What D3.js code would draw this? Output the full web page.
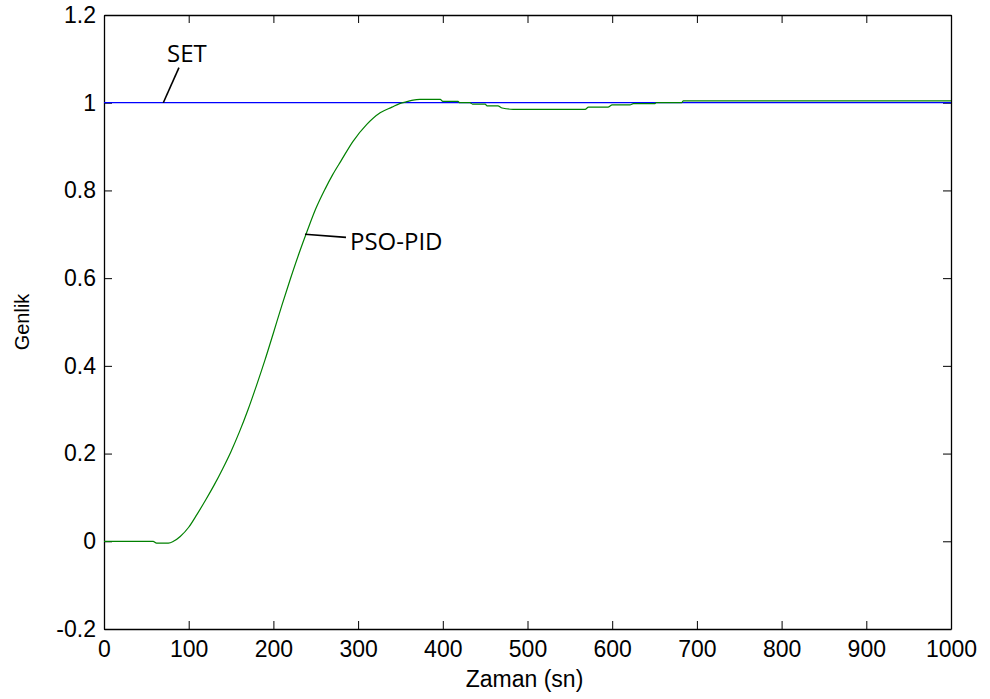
<!DOCTYPE html>
<html>
<head>
<meta charset="utf-8">
<script src="https://cdn.jsdelivr.net/npm/d3@7"></script>
<style>
  html, body { margin: 0; padding: 0; background: #fff; }
  svg { display: block; }
</style>
</head>
<body>
<svg id="chart" width="990" height="699"></svg>
<script>
// ---- data ----
const xTicks = [0, 100, 200, 300, 400, 500, 600, 700, 800, 900, 1000];
const xTickLabels = ["0", "100", "200", "300", "400", "500", "600", "700", "800", "900", "1000"];
const yTicks = [-0.2, 0, 0.2, 0.4, 0.6, 0.8, 1, 1.2];
const yTickLabels = ["-0.2", "0", "0.2", "0.4", "0.6", "0.8", "1", "1.2"];

const setTime = [0, 1000];
const setValue = [1, 1];

const pidTime = [0, 58, 62, 76, 82, 90, 100, 110, 120, 130, 140, 150, 160, 170, 180, 190, 200, 210, 220, 230, 240, 250, 261, 270, 280, 294, 310, 326, 340, 349, 359, 365, 373, 397, 400, 418, 420, 432, 435, 450, 452, 465, 470, 483, 568, 572, 595, 600, 621, 625, 650, 652, 682, 684, 1000];
const pidValue = [0, 0, -0.004, -0.004, 0.0, 0.011, 0.032, 0.062, 0.094, 0.128, 0.165, 0.205, 0.25, 0.3, 0.355, 0.413, 0.475, 0.538, 0.598, 0.655, 0.708, 0.758, 0.803, 0.836, 0.868, 0.912, 0.95, 0.977, 0.99, 0.998, 1.003, 1.006, 1.0074, 1.0074, 1.003, 1.003, 1.0, 1.0, 0.997, 0.997, 0.993, 0.993, 0.988, 0.985, 0.985, 0.99, 0.99, 0.995, 0.995, 0.998, 0.998, 1.0, 1.0, 1.004, 1.004];

const annoLabels = ["SET", "PSO-PID"];
const annoTextPos = [[74.4, 1.093], [290.4, 0.665]];
const annoLineFrom = [[88.5, 1.08], [285.7, 0.693]];
const annoLineTo = [[70, 1.0], [237.3, 0.7]];

const xLabel = "Zaman (sn)";
const yLabel = "Genlik";

// ---- layout ----
const svg = d3.select("#chart");
const pLeft = 104, pTop = 15, pRight = 951, pBottom = 629;

const x = d3.scaleLinear().domain([0, 1000]).range([pLeft, pRight]);
const y = d3.scaleLinear().domain([-0.2, 1.2]).range([pBottom, pTop]);

const tickFont = "'Liberation Sans', Arial, Helvetica, sans-serif";

function styleAxis(g) {
  g.selectAll("path.domain").attr("stroke", "#000").attr("stroke-width", 1.3);
  g.selectAll(".tick line").attr("stroke", "#000").attr("stroke-width", 1);
  g.selectAll("text").attr("font-family", tickFont).attr("font-size", 23).attr("fill", "#000");
}

// bottom
svg.append("g").attr("transform", `translate(0,${pBottom})`)
  .call(d3.axisBottom(x).tickValues(xTicks).tickFormat((d, i) => xTickLabels[i])
    .tickSizeInner(-8).tickSizeOuter(0).tickPadding(12))
  .call(styleAxis);
// top
svg.append("g").attr("transform", `translate(0,${pTop})`)
  .call(d3.axisTop(x).tickValues(xTicks).tickFormat("")
    .tickSizeInner(-8).tickSizeOuter(0))
  .call(styleAxis);
// left
svg.append("g").attr("transform", `translate(${pLeft},0)`)
  .call(d3.axisLeft(y).tickValues(yTicks).tickFormat((d, i) => yTickLabels[i])
    .tickSizeInner(-8).tickSizeOuter(0).tickPadding(8))
  .call(styleAxis);
// right
svg.append("g").attr("transform", `translate(${pRight},0)`)
  .call(d3.axisRight(y).tickValues(yTicks).tickFormat("")
    .tickSizeInner(-8).tickSizeOuter(0))
  .call(styleAxis);

// lines
const line = d3.line().x(d => x(d[0])).y(d => y(d[1]));
const smoothLine = d3.line().x(d => x(d[0])).y(d => y(d[1])).curve(d3.curveMonotoneX);

svg.append("path")
  .datum(setTime.map((t, i) => [t, setValue[i]]))
  .attr("d", line)
  .attr("fill", "none")
  .attr("stroke", "#0000ff")
  .attr("stroke-width", 1.2);

svg.append("path")
  .datum(pidTime.map((t, i) => [t, pidValue[i]]))
  .attr("d", smoothLine)
  .attr("fill", "none")
  .attr("stroke", "#008000")
  .attr("stroke-width", 1.2);

// annotations
annoLabels.forEach((lab, i) => {
  svg.append("line")
    .attr("x1", x(annoLineFrom[i][0])).attr("y1", y(annoLineFrom[i][1]))
    .attr("x2", x(annoLineTo[i][0])).attr("y2", y(annoLineTo[i][1]))
    .attr("stroke", "#000").attr("stroke-width", 1.6);
  svg.append("text")
    .attr("x", x(annoTextPos[i][0])).attr("y", y(annoTextPos[i][1]))
    .attr("font-family", "'Open Sans', 'Noto Sans', sans-serif")
    .attr("font-size", 24)
    .attr("fill", "#000")
    .text(lab);
});

// axis titles
svg.append("text")
  .attr("x", (pLeft + pRight) / 2 - 3).attr("y", 687)
  .attr("text-anchor", "middle")
  .attr("font-family", tickFont).attr("font-size", 23)
  .text(xLabel);

svg.append("text")
  .attr("transform", `translate(29,${(pTop + pBottom) / 2}) rotate(-90)`)
  .attr("text-anchor", "middle")
  .attr("font-family", tickFont).attr("font-size", 20)
  .text(yLabel);
</script>
</body>
</html>
